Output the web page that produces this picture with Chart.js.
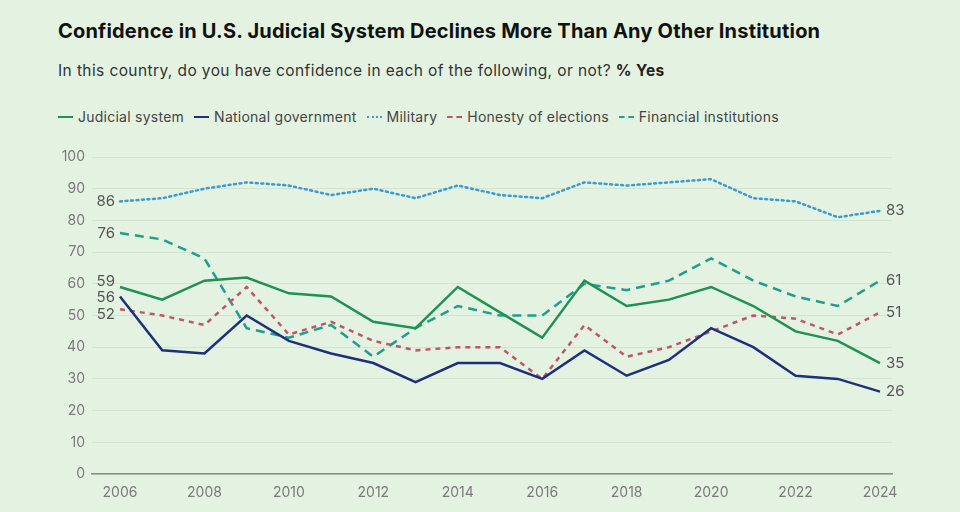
<!DOCTYPE html>
<html>
<head>
<meta charset="utf-8">
<script src="https://cdn.jsdelivr.net/npm/chart.js@4"></script>
<style>
    html, body { margin: 0; padding: 0; }
    body {
        width: 960px; height: 512px; overflow: hidden; position: relative;
        background: #e4f2e1; font-family: Inter, "Noto Sans", sans-serif; color: #222;
    }
    .title { position: absolute; left: 58px; top: 19px; font-size: 20px; font-weight: 700; color: #111; letter-spacing: 0.2px; white-space: nowrap; }
    .subtitle { position: absolute; left: 58px; top: 61px; font-size: 15.5px; color: #333; letter-spacing: 0.4px; white-space: nowrap; }
    .subtitle b { color: #222; }
    .legend { position: absolute; left: 58px; top: 108px; font-size: 14px; color: #444; display: flex; white-space: nowrap; letter-spacing: 0.25px; }
    .legend-item { display: flex; align-items: center; margin-right: 10px; }
    .swatch { width: 15px; height: 0; border-top-width: 2.5px; margin-right: 5px; }
    #chart-wrap { position: absolute; left: 0; top: 0; width: 960px; height: 512px; }
</style>
</head>
<body>
<div class="title">Confidence in U.S. Judicial System Declines More Than Any Other Institution</div>
<div class="subtitle">In this country, do you have confidence in each of the following, or not? <b>% Yes</b></div>
<div class="legend" id="legend"></div>
<div id="chart-wrap"><canvas id="chart" width="960" height="512"></canvas></div>

<script>
// 연도 (2006 ~ 2024)
const years = [2006, 2007, 2008, 2009, 2010, 2011, 2012, 2013, 2014, 2015, 2016, 2017, 2018, 2019, 2020, 2021, 2022, 2023, 2024];

const judicial   = [59, 55, 61, 62, 57, 56, 48, 46, 59, 51, 43, 61, 53, 55, 59, 53, 45, 42, 35];
const nationalGov = [56, 39, 38, 50, 42, 38, 35, 29, 35, 35, 30, 39, 31, 36, 46, 40, 31, 30, 26];
const military   = [86, 87, 90, 92, 91, 88, 90, 87, 91, 88, 87, 92, 91, 92, 93, 87, 86, 81, 83];
const elections  = [52, 50, 47, 59, 44, 48, 42, 39, 40, 40, 30, 47, 37, 40, 45, 50, 49, 44, 51];
const financial  = [76, 74, 68, 46, 43, 47, 37, 46, 53, 50, 50, 60, 58, 61, 68, 61, 56, 53, 61];

const yTicks = [0, 10, 20, 30, 40, 50, 60, 70, 80, 90, 100];
const xTicks = [2006, 2008, 2010, 2012, 2014, 2016, 2018, 2020, 2022, 2024];

const SERIES = [
    { label: 'Judicial system',        data: judicial,    color: '#1f9152', dash: [],       css: 'solid'  },
    { label: 'National government',    data: nationalGov, color: '#1e2f7c', dash: [],       css: 'solid'  },
    { label: 'Military',               data: military,    color: '#3a9ad4', dash: [2, 3.5], css: 'dotted' },
    { label: 'Honesty of elections',   data: elections,   color: '#c25467', dash: [5, 5],   css: 'dashed' },
    { label: 'Financial institutions', data: financial,   color: '#1f9e8c', dash: [9, 6],   css: 'dashed' }
];

/* -------------------- 범례 (HTML) -------------------- */

document.getElementById('legend').innerHTML = SERIES.map(s => `
    <span class="legend-item">
        <span class="swatch" style="border-top-style:${s.css}; border-top-color:${s.color}"></span>${s.label}
    </span>
`).join('');

/* -------------------- 끝 값 라벨 플러그인 -------------------- */

// 겹치는 라벨을 위아래로 밀어내기
function spread(items, gap) {
    items.sort((a, b) => a.y - b.y);
    for (let iter = 0; iter < 30; iter++) {
        for (let i = 1; i < items.length; i++) {
            const d = items[i].y - items[i - 1].y;
            if (d < gap) {
                const push = (gap - d) / 2;
                items[i].y += push;
                items[i - 1].y -= push;
            }
        }
    }
    return items;
}

const endLabels = {
    id: 'endLabels',
    afterDatasetsDraw(chart) {
        const ctx = chart.ctx;
        const left = [], right = [];
        chart.data.datasets.forEach((ds, i) => {
            const pts = chart.getDatasetMeta(i).data;
            const first = pts[0], last = pts[pts.length - 1];
            left.push({ x: first.x, y: first.y, text: ds.data[0].y });
            right.push({ x: last.x, y: last.y, text: ds.data[ds.data.length - 1].y });
        });
        ctx.save();
        ctx.font = '15px Inter, "Noto Sans", sans-serif';
        ctx.fillStyle = '#555';
        ctx.textBaseline = 'middle';
        ctx.textAlign = 'right';
        spread(left, 16.5).forEach(l => ctx.fillText(l.text, l.x - 5, l.y));
        ctx.textAlign = 'left';
        spread(right, 16.5).forEach(l => ctx.fillText(l.text, l.x + 6, l.y));
        ctx.restore();
    }
};

/* -------------------- 차트 -------------------- */

new Chart(document.getElementById('chart').getContext('2d'), {
    type: 'line',
    data: {
        datasets: SERIES.map(s => ({
            label: s.label,
            data: years.map((yr, i) => ({ x: yr, y: s.data[i] })),
            borderColor: s.color,
            borderWidth: 2.5,
            borderDash: s.dash,
            borderCapStyle: s.css === 'dotted' ? 'round' : 'butt',
            pointRadius: 0,
            tension: 0,
            fill: false
        }))
    },
    options: {
        responsive: false,
        animation: false,
        layout: { padding: { left: 40, right: 68, top: 157, bottom: 8 } },
        plugins: { legend: { display: false }, tooltip: { enabled: false } },
        scales: {
            x: {
                type: 'linear',
                min: 2005.337,
                max: 2024.284,
                afterBuildTicks: axis => { axis.ticks = xTicks.map(v => ({ value: v })); },
                afterFit: axis => { axis.height = 30; },
                grid: { display: false },
                border: { display: true, color: '#8a8a8a', width: 1.5 },
                ticks: { color: '#7a7a7a', font: { size: 14, family: 'Inter' }, padding: 2, maxRotation: 0, callback: v => String(v) }
            },
            y: {
                min: 0,
                max: 100,
                afterBuildTicks: axis => { axis.ticks = yTicks.map(v => ({ value: v })); },
                afterFit: axis => { axis.width = 52; },
                grid: { color: '#d3e3d0', lineWidth: 1, drawTicks: false },
                border: { display: false },
                ticks: { color: '#7a7a7a', font: { size: 14, family: 'Inter' }, padding: 7 }
            }
        }
    },
    plugins: [endLabels]
});
</script>
</body>
</html>
